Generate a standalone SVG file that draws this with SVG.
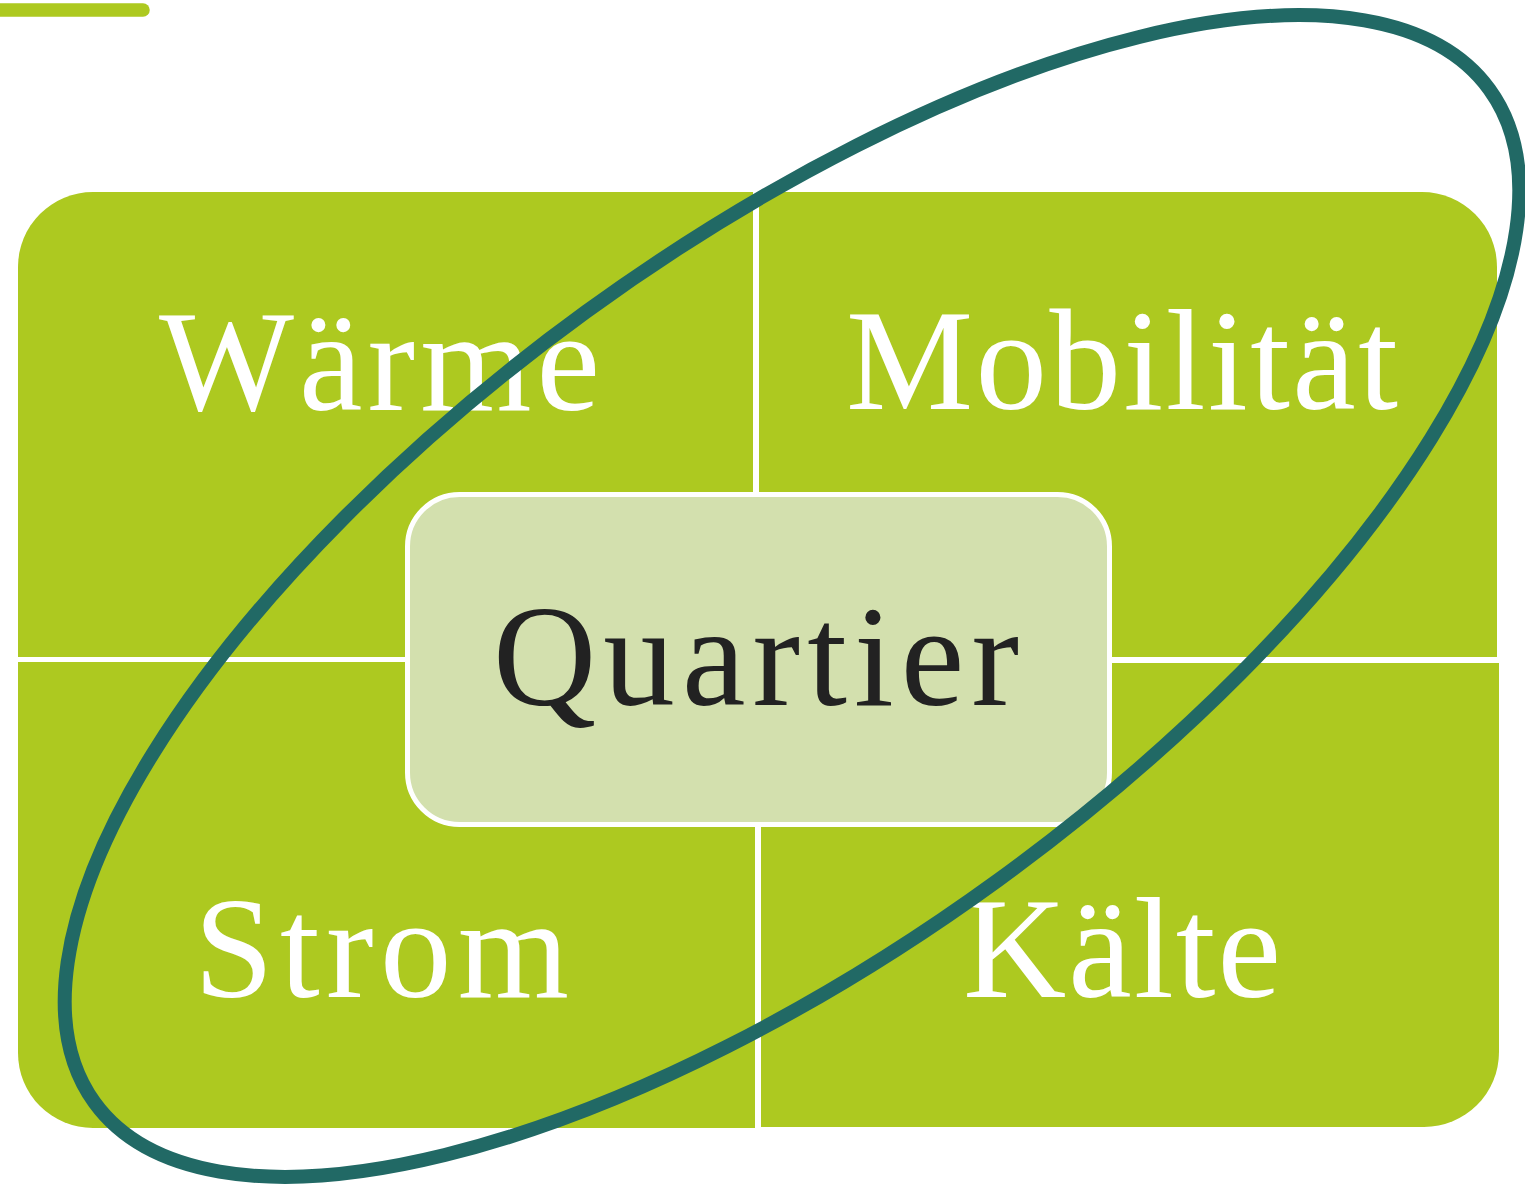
<svg xmlns="http://www.w3.org/2000/svg" width="1525" height="1185" viewBox="0 0 1525 1185">
<style>
.quad{fill:#ADC920;}
.lbl{font-family:"Liberation Serif","Times New Roman",serif;font-size:143px;fill:#FFFFFF;}
.ctr{font-family:"Liberation Serif","Times New Roman",serif;font-size:143px;fill:#222222;}
</style>
<rect x="0" y="0" width="1525" height="1185" fill="#FFFFFF"/>
<path d="M-10 10 H143" stroke="#ADC920" stroke-width="13.5" stroke-linecap="round" fill="none"/>
<g id="waerme">
<path class="quad" d="M18,657 V267 A75,75 0 0 1 93,192 H753 V657 Z"/>
<text class="lbl" x="159" y="410" textLength="441" lengthAdjust="spacing">Wärme</text>
</g>
<g id="mobilitaet">
<path class="quad" d="M759,192 H1422 A75,75 0 0 1 1497,267 V657 H759 Z"/>
<text class="lbl" x="846" y="409" textLength="552" lengthAdjust="spacing">Mobilität</text>
</g>
<g id="strom">
<path class="quad" d="M18,662 H755 V1128 H93 A75,75 0 0 1 18,1053 Z"/>
<text class="lbl" x="194" y="997" textLength="375" lengthAdjust="spacing">Strom</text>
</g>
<g id="kaelte">
<path class="quad" d="M761,663 H1499 V1052 A75,75 0 0 1 1424,1127 H761 Z"/>
<text class="lbl" x="963" y="997" textLength="318" lengthAdjust="spacing">Kälte</text>
</g>
<g id="quartier">
<rect x="407.5" y="494.5" width="702" height="330" rx="52" ry="52" fill="#D3E0AE" stroke="#FFFFFF" stroke-width="5"/>
<text class="ctr" x="493" y="705" textLength="526" lengthAdjust="spacing">Quartier</text>
</g>
<g id="connectors">
<ellipse cx="792" cy="596" rx="862" ry="351" transform="rotate(-36 792 596)" fill="none" stroke="#216965" stroke-width="14"/>
</g>
</svg>
